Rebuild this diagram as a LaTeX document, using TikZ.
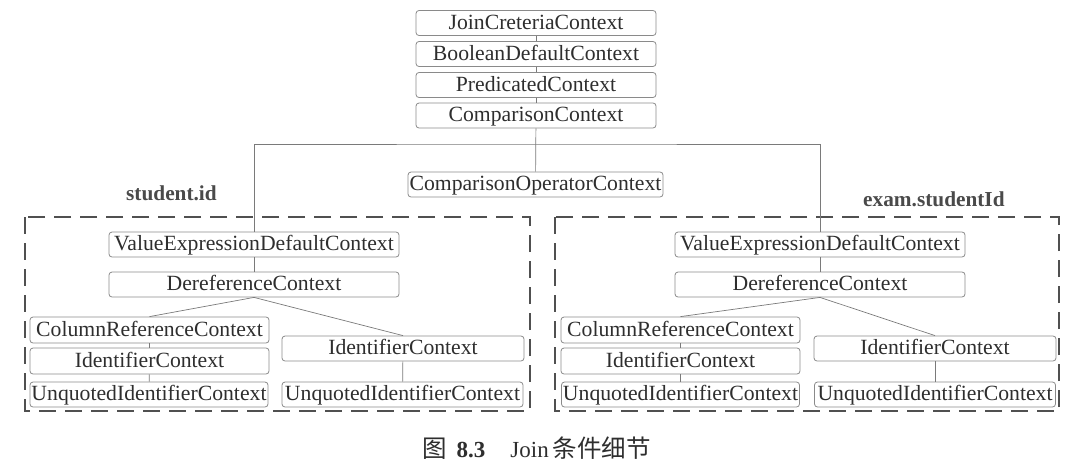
\documentclass[tikz,border=0pt]{standalone}
\usepackage{fontspec}
\setmainfont{Liberation Serif}
\newfontfamily\cjk{Noto Sans CJK SC}
\definecolor{boxgray}{HTML}{8A8A8A}
\definecolor{linegray}{HTML}{7A7A7A}
\definecolor{txt}{HTML}{2E2E2E}
\definecolor{lbl}{HTML}{4A4A4A}
\definecolor{dashgray}{HTML}{505050}
\begin{document}
\begin{tikzpicture}[x=1pt,y=-1pt,
  box/.style={draw=boxgray, line width=0.8pt, rounded corners=3pt, inner sep=0pt,
    minimum height=25pt, text height=16pt, text depth=4pt,
    font=\fontsize{21.7}{24}\selectfont, text=txt},
  conn/.style={draw=linegray, line width=0.7pt},
  group/.style={draw=dashgray, line width=1.7pt, dash pattern=on 17pt off 9pt},
  lab/.style={inner sep=0pt, anchor=base west, text=lbl, font=\fontsize{21.3}{24}\selectfont\bfseries}]
\useasboundingbox (0,0) rectangle (1075,469);

% top chain
\node[box, minimum width=240pt] (join) at (536,23) {JoinCreteriaContext};
\node[box, minimum width=240pt] (bool) at (536,54) {BooleanDefaultContext};
\node[box, minimum width=240pt] (pred) at (536,85) {PredicatedContext};
\node[box, minimum width=240pt] (cmp) at (536,115.5) {ComparisonContext};
\node[box, minimum width=255pt] (op) at (535.5,184.5) {ComparisonOperatorContext};

% left group
\node[box, minimum width=290pt] (lve) at (254,244.5) {ValueExpressionDefaultContext};
\node[box, minimum width=290pt] (lder) at (254,284.5) {DereferenceContext};
\node[box, minimum width=239pt, minimum height=26pt] (lcol) at (149.5,330) {ColumnReferenceContext};
\node[box, minimum width=239pt, minimum height=26pt] (lid1) at (149.5,361) {IdentifierContext};
\node[box, minimum width=238pt] (luq1) at (149,394.5) {UnquotedIdentifierContext};
\node[box, minimum width=242pt] (lid2) at (403,348.5) {IdentifierContext};
\node[box, minimum width=241pt] (luq2) at (402.5,394.5) {UnquotedIdentifierContext};

% right group
\node[box, minimum width=290pt] (rve) at (820,244.5) {ValueExpressionDefaultContext};
\node[box, minimum width=290pt] (rder) at (820,284.5) {DereferenceContext};
\node[box, minimum width=239pt, minimum height=26pt] (rcol) at (680.5,330) {ColumnReferenceContext};
\node[box, minimum width=239pt, minimum height=26pt] (rid1) at (680.5,361) {IdentifierContext};
\node[box, minimum width=238pt] (ruq1) at (680.5,394.5) {UnquotedIdentifierContext};
\node[box, minimum width=242pt] (rid2) at (935,348.5) {IdentifierContext};
\node[box, minimum width=241pt] (ruq2) at (935,394.5) {UnquotedIdentifierContext};

% dashed groups
\draw[group] (25,217) rectangle (530,411);
\draw[group] (555,217) rectangle (1059,411);

% labels
\node[lab] (lsid) at (126,200) {student.id};
\node[lab] (lexam) at (863,206) {exam.studentId};

% connectors
\coordinate (jn) at (536,144);
\draw[conn] (join) -- (bool);
\draw[conn] (bool) -- (pred);
\draw[conn] (pred) -- (cmp);
\draw[conn] (cmp) -- (op);
\draw[conn] (lve.north) |- (jn) -| (rve.north);

\draw[conn] (lve) -- (lder);
\draw[conn] (lder.south) -- (lcol.north);
\draw[conn] (lder.south) -- (lid2.north);
\draw[conn] (lcol) -- (lid1);
\draw[conn] (lid1) -- (luq1);
\draw[conn] (lid2) -- (luq2);

\draw[conn] (rve) -- (rder);
\draw[conn] (rder.south) -- (rcol.north);
\draw[conn] (rder.south) -- (rid2.north);
\draw[conn] (rcol) -- (rid1);
\draw[conn] (rid1) -- (ruq1);
\draw[conn] (rid2) -- (ruq2);

% caption
\node[inner sep=0pt, anchor=base west, text=txt, font=\fontsize{23}{26}\selectfont] (cap) at (422,457)
  {{\cjk\fontsize{24.5}{26}\selectfont 图}\hspace{10pt}\textbf{8.3}\hspace{25pt}Join\hspace{4pt}{\cjk\fontsize{24.5}{26}\selectfont 条件细节}};
\end{tikzpicture}
\end{document}
